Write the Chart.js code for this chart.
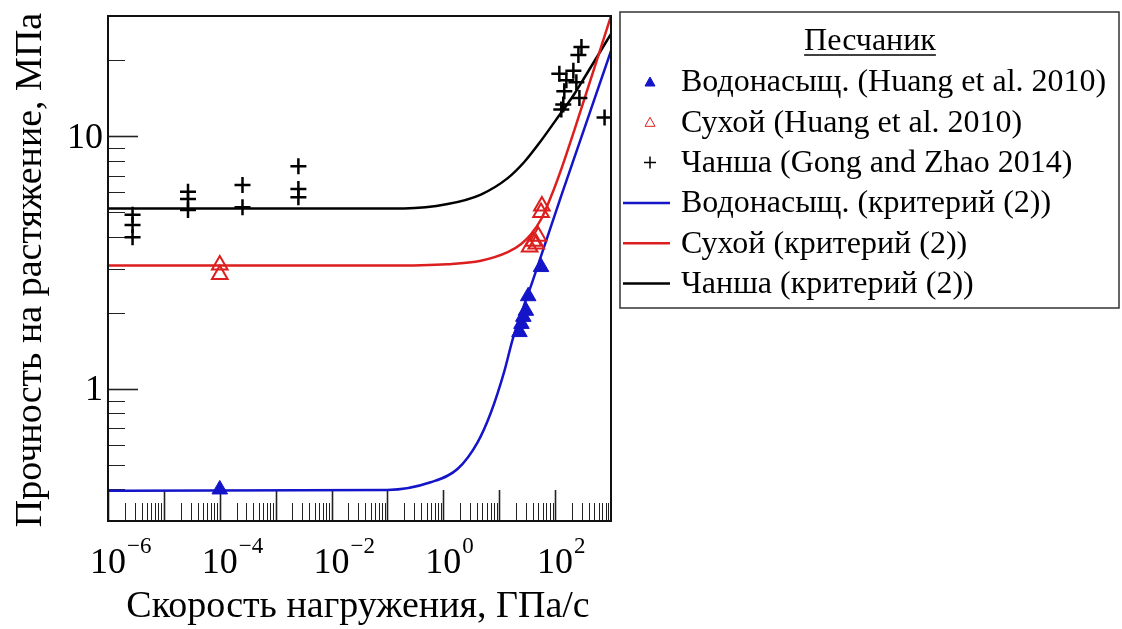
<!DOCTYPE html>
<html lang="ru">
<head>
<meta charset="UTF-8">
<title>Прочность песчаника на растяжение</title>
<script src="https://cdn.jsdelivr.net/npm/chart.js"></script>
<style>
  html, body { margin: 0; padding: 0; background: #fff; }
</style>
</head>
<body>
<canvas id="chart" width="1122" height="629"></canvas>
<script>
// --- данные ---
// Водонасыщ. (Huang et al. 2010)
const satRate     = [1e-4, 23, 25, 27, 30, 33, 56];
const satStrength = [0.40, 1.68, 1.81, 1.93, 2.04, 2.33, 3.04];
// Сухой (Huang et al. 2010)
const dryRate     = [1e-4, 1e-4, 35, 41, 46, 50, 56, 58];
const dryStrength = [3.10, 2.84, 3.65, 3.85, 3.75, 4.03, 5.0, 5.3];
// Чанша (Gong and Zhao 2014)
const chRate     = [2.75e-6, 2.75e-6, 2.75e-6, 2.7e-5, 2.7e-5, 2.7e-5, 2.55e-4, 2.55e-4,
                    2.55e-3, 2.55e-3, 2.55e-3, 296, 261, 119, 212, 159, 240, 146, 272, 140, 129, 767];
const chStrength = [4.9, 4.46, 3.99, 6.04, 5.65, 5.11, 6.43, 5.24,
                    7.62, 6.19, 5.74, 22.6, 21.0, 17.7, 18.2, 16.7, 16.4, 15.1, 14.2, 13.4, 12.8, 11.9];

// кривые по критерию (2)
const satCurveRate = [1e-6, 0.1, 0.593, 1.79, 4.1, 7.1, 12.4, 17.5, 40, 129, 1000];
const satCurve     = [0.395, 0.398, 0.427, 0.482, 0.615, 0.807, 1.18, 1.58, 2.69, 5.83, 21.8];
const dryCurveRate = [1e-6, 0.1, 1.19, 4.7, 14.2, 24.7, 37.3, 56.5, 85.5, 129, 224, 1000];
const dryCurve     = [3.08, 3.08, 3.12, 3.22, 3.48, 3.75, 4.11, 4.71, 5.82, 7.43, 10.7, 30];
const chCurveRate  = [1e-6, 0.2, 1.19, 4.7, 14.2, 28.3, 52.6, 100, 224, 340, 1000];
const chCurve      = [5.19, 5.19, 5.40, 5.89, 6.84, 7.94, 9.44, 11.5, 14.8, 17.2, 25.5];

// оси
const xRange = [1e-6, 1e3];
const yRange = [0.3, 30];
const xTickExps = [-6, -4, -2, 0, 2];
const yTickLabels = [1, 10];

const legendTitle = 'Песчаник';
const xTitle = 'Скорость нагружения, ГПа/с';
const yTitle = 'Прочность на растяжение, МПа';

const BLUE = '#1414c8';
const RED = '#dc1e1e';
const BLACK = '#000';
const FONT = '"Liberation Serif", "Times New Roman", serif';

const pts = (xs, ys) => xs.map((v, i) => ({x: v, y: ys[i]}));

const datasets = [
  {label: 'Водонасыщ. (Huang et al. 2010)', data: pts(satRate, satStrength),
   pointStyle: 'triangle', pointRadius: 9, backgroundColor: BLUE, borderColor: BLUE, borderWidth: 1, order: 0},
  {label: 'Сухой (Huang et al. 2010)', data: pts(dryRate, dryStrength),
   pointStyle: 'triangle', pointRadius: 9, backgroundColor: 'rgba(255,255,255,0)', borderColor: RED, borderWidth: 2, order: 0},
  {label: 'Чанша (Gong and Zhao 2014)', data: pts(chRate, chStrength),
   pointStyle: 'cross', pointRadius: 8, borderColor: BLACK, borderWidth: 2.5, order: 0},
  {label: 'Водонасыщ. (критерий (2))', data: pts(satCurveRate, satCurve),
   showLine: true, pointRadius: 0, borderColor: BLUE, borderWidth: 2.5, cubicInterpolationMode: 'monotone', order: 1},
  {label: 'Сухой (критерий (2))', data: pts(dryCurveRate, dryCurve),
   showLine: true, pointRadius: 0, borderColor: RED, borderWidth: 2.5, cubicInterpolationMode: 'monotone', order: 1},
  {label: 'Чанша (критерий (2))', data: pts(chCurveRate, chCurve),
   showLine: true, pointRadius: 0, borderColor: BLACK, borderWidth: 2.5, cubicInterpolationMode: 'monotone', order: 1}
];

function line(ctx, x1, y1, x2, y2) {
  ctx.beginPath(); ctx.moveTo(x1, y1); ctx.lineTo(x2, y2); ctx.stroke();
}

// рамка, засечки, подписи и легенда
const frame = {
  id: 'frame',
  beforeDatasetsDraw(chart) {
    const {ctx, chartArea: a, scales: {x, y}} = chart;
    ctx.save();
    ctx.strokeStyle = '#222';
    // засечки по X, внутрь снизу
    for (let e = -6; e < 3; e++) {
      for (let k = 1; k < 10; k++) {
        const v = k * Math.pow(10, e);
        const px = Math.round(x.getPixelForValue(v)) + 0.5;
        ctx.lineWidth = k === 1 ? 1.6 : 1;
        line(ctx, px, a.bottom, px, a.bottom - (k === 1 ? 31 : 18));
      }
    }
    // засечки по Y, внутрь слева
    for (let e = -1; e < 2; e++) {
      for (let k = 1; k < 10; k++) {
        const v = k * Math.pow(10, e);
        if (v < yRange[0] || v >= yRange[1]) continue;
        const py = Math.round(y.getPixelForValue(v)) + 0.5;
        ctx.lineWidth = k === 1 ? 1.6 : 1;
        line(ctx, a.left, py, a.left + (k === 1 ? 30 : 17), py);
      }
    }
    ctx.restore();
  },
  afterDraw(chart) {
    const {ctx, chartArea: a, scales: {x, y}} = chart;
    ctx.save();
    ctx.strokeStyle = '#111';
    ctx.lineWidth = 2;
    ctx.strokeRect(a.left, a.top, a.right - a.left, a.bottom - a.top);

    ctx.fillStyle = '#000';
    // подписи X: 10 со степенью
    xTickExps.forEach(p => {
      const px = x.getPixelForValue(Math.pow(10, p));
      ctx.font = '36px ' + FONT;
      ctx.textAlign = 'center'; ctx.textBaseline = 'alphabetic';
      const w = ctx.measureText('10').width;
      ctx.fillText('10', px, 573);
      ctx.font = '23px ' + FONT;
      ctx.textAlign = 'left';
      ctx.fillText(p < 0 ? '\u2212' + (-p) : String(p), px + w / 2 + 1, 553);
    });
    // подписи Y
    ctx.font = '36px ' + FONT;
    ctx.textAlign = 'right'; ctx.textBaseline = 'middle';
    yTickLabels.forEach(v => ctx.fillText(String(v), 103, y.getPixelForValue(v) + 2));

    // названия осей
    ctx.font = '38px ' + FONT;
    ctx.textAlign = 'center';
    ctx.fillText(xTitle, 358, 607);
    ctx.save();
    ctx.translate(31, 270);
    ctx.rotate(-Math.PI / 2);
    ctx.fillText(yTitle, 0, 0);
    ctx.restore();

    // легенда
    const L = {x: 620, y: 12, w: 499, h: 296};
    ctx.strokeStyle = '#333'; ctx.lineWidth = 1.5;
    ctx.strokeRect(L.x, L.y, L.w, L.h);
    ctx.font = '32px ' + FONT;
    ctx.textAlign = 'center'; ctx.textBaseline = 'middle';
    ctx.fillText(legendTitle, 870, 42);
    const tw = ctx.measureText(legendTitle).width;
    ctx.lineWidth = 1.5; ctx.strokeStyle = '#000';
    line(ctx, 870 - tw / 2, 55, 870 + tw / 2, 55);

    ctx.textAlign = 'left';
    chart.data.datasets.forEach((ds, i) => {
      const ry = 82 + i * 40.3;
      if (ds.showLine) {
        ctx.strokeStyle = ds.borderColor; ctx.lineWidth = 2.5;
        line(ctx, 623, ry, 670, ry);
      } else {
        ctx.strokeStyle = ds.borderColor;
        ctx.lineWidth = ds.pointStyle === 'cross' ? 1.5 : 1;
        ctx.beginPath();
        if (ds.pointStyle === 'triangle') {
          ctx.moveTo(650, ry - 5); ctx.lineTo(655, ry + 4); ctx.lineTo(645, ry + 4); ctx.closePath();
          if (ds.backgroundColor === BLUE) { ctx.fillStyle = BLUE; ctx.fill(); }
          ctx.stroke();
        } else {
          ctx.moveTo(644, ry); ctx.lineTo(656, ry); ctx.moveTo(650, ry - 6); ctx.lineTo(650, ry + 6);
          ctx.stroke();
        }
      }
      ctx.fillStyle = '#000';
      ctx.fillText(ds.label, 681, ry + 1);
    });
    ctx.restore();
  }
};

new Chart(document.getElementById('chart'), {
  type: 'scatter',
  data: {datasets: datasets},
  options: {
    responsive: false,
    animation: false,
    devicePixelRatio: 1,
    layout: {padding: {left: 108, right: 511, top: 16, bottom: 108}},
    plugins: {legend: {display: false}, tooltip: {enabled: false}},
    scales: {
      x: {type: 'logarithmic', min: xRange[0], max: xRange[1], display: false},
      y: {type: 'logarithmic', min: yRange[0], max: yRange[1], display: false}
    }
  },
  plugins: [frame]
});
</script>
</body>
</html>
